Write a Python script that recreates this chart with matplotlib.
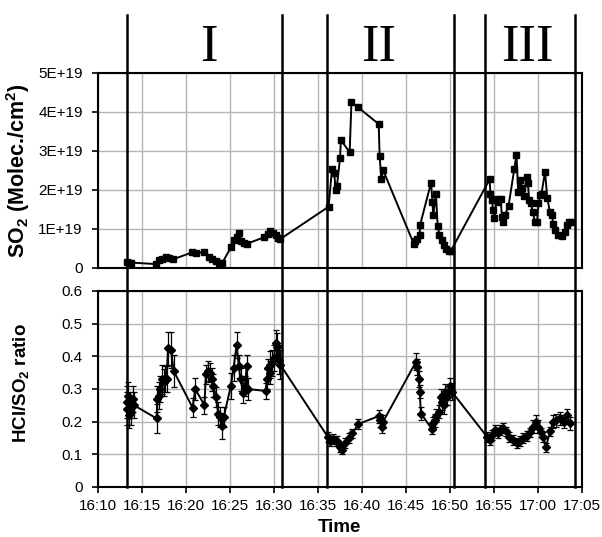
import numpy as np
import matplotlib
matplotlib.use("Agg")
import matplotlib.pyplot as plt
from matplotlib.transforms import blended_transform_factory
from matplotlib.lines import Line2D

plt.rcParams['font.family'] = ['Liberation Sans', 'DejaVu Sans']
plt.rcParams['mathtext.fontset'] = 'custom'
plt.rcParams['mathtext.rm'] = 'Liberation Sans'
plt.rcParams['mathtext.bf'] = 'Liberation Sans:bold'

# ---------------- data (time in minutes after 16:00) ----------------
so2_time = [13.3, 13.5, 13.7, 16.6, 16.95, 17.3, 17.7, 18.1, 18.5, 20.7, 21.1, 22.05, 22.6,
            23.0, 23.4, 23.8, 24.1, 25.1, 25.5, 25.75, 26.0, 26.3, 26.6, 26.9, 28.9, 29.3,
            29.6, 29.9, 30.2, 30.5, 30.7, 36.2, 36.6, 36.85, 37.0, 37.15, 37.5, 37.6, 38.6,
            38.8, 39.55, 41.9, 42.0, 42.2, 42.4, 45.9, 46.05, 46.2, 46.55, 46.6, 47.85, 48.0,
            48.1, 48.4, 48.6, 48.8, 49.05, 49.3, 49.6, 49.85, 50.1, 54.5, 54.6, 54.75, 54.9,
            55.05, 55.3, 55.5, 55.75, 55.9, 56.05, 56.25, 56.65, 57.3, 57.55, 57.75, 58.0,
            58.2, 58.4, 58.7, 58.85, 59.0, 59.2, 59.4, 59.65, 59.9, 60.05, 60.25, 60.4, 60.8,
            61.05, 61.35, 61.55, 61.75, 61.95, 62.3, 62.7, 63.05, 63.25, 63.5, 63.7]
so2_e19 = [0.15, 0.12, 0.14, 0.10, 0.20, 0.24, 0.29, 0.25, 0.22, 0.40, 0.39, 0.40, 0.29,
           0.22, 0.18, 0.14, 0.12, 0.53, 0.72, 0.80, 0.91, 0.70, 0.63, 0.62, 0.79, 0.88,
           0.95, 0.90, 0.85, 0.78, 0.74, 1.57, 2.55, 2.43, 2.00, 2.10, 2.81, 3.28, 2.97,
           4.26, 4.12, 3.69, 2.88, 2.27, 2.51, 0.61, 0.68, 0.74, 0.85, 1.10, 2.19, 1.70,
           1.35, 1.91, 1.08, 0.85, 0.72, 0.59, 0.48, 0.44, 0.44, 2.27, 1.91, 1.74, 1.49,
           1.27, 1.78, 1.70, 1.78, 1.32, 1.19, 1.36, 1.59, 2.53, 2.90, 1.96, 2.26,
           2.05, 1.84, 2.34, 2.17, 1.74, 1.66, 1.44, 1.19, 1.19, 1.66, 1.88, 1.91, 2.47,
           1.80, 1.44, 1.36, 1.14, 0.97, 0.85, 0.83, 0.93, 1.10, 1.19, 1.19]

ratio_time = [13.25, 13.35, 13.45, 13.55, 13.65, 13.8, 13.95, 14.1,
              16.65, 16.75, 16.9, 17.1, 17.25, 17.45, 17.6, 17.8, 17.95, 18.3, 18.6,
              20.75, 21.05, 22.1, 22.25, 22.5, 22.7, 22.9, 23.1, 23.4, 23.65, 23.9, 24.1, 24.3,
              25.1, 25.4, 25.75, 26.0, 26.2, 26.5, 26.7, 26.9, 27.0,
              29.05, 29.2, 29.35, 29.5, 29.6, 29.8, 30.0, 30.2, 30.35, 30.55, 30.7,
              36.1, 36.4, 36.7, 37.0, 37.2, 37.55, 37.75, 38.1, 38.5, 38.9, 39.6, 41.9, 42.1,
              42.25, 42.4,
              46.15, 46.3, 46.45, 46.55, 46.7, 47.95, 48.1, 48.3, 48.45, 48.7, 48.95, 49.1,
              49.3, 49.45, 49.7, 49.95, 50.2,
              54.2, 54.5, 54.8, 55.1, 55.4, 55.7, 56.05, 56.4, 56.75, 57.2, 57.6, 57.9, 58.3,
              58.7, 59.1, 59.45, 59.8, 60.0, 60.3, 60.6, 60.9, 61.35, 61.75, 62.1, 62.5, 62.9,
              63.25, 63.6]
ratio = [0.26, 0.24, 0.28, 0.22, 0.25, 0.23, 0.27, 0.25,
         0.21, 0.27, 0.28, 0.30, 0.33, 0.32, 0.33, 0.33, 0.425, 0.42, 0.355,
         0.243, 0.30, 0.25, 0.345, 0.355, 0.35, 0.33, 0.31, 0.276, 0.225, 0.215, 0.187, 0.215,
         0.31, 0.363, 0.435, 0.37, 0.33, 0.287, 0.31, 0.37, 0.30,
         0.294, 0.33, 0.363, 0.35, 0.375, 0.38, 0.394, 0.44, 0.43, 0.39, 0.375,
         0.154, 0.14, 0.146, 0.14, 0.14, 0.123, 0.113, 0.135, 0.149, 0.164, 0.193, 0.217, 0.205,
         0.185, 0.20,
         0.384, 0.367, 0.33, 0.292, 0.225, 0.177, 0.195, 0.205, 0.218, 0.23, 0.276, 0.26,
         0.25, 0.29, 0.275, 0.309, 0.292,
         0.154, 0.145, 0.16, 0.174, 0.165, 0.175, 0.18, 0.17, 0.154, 0.145, 0.134, 0.14, 0.15,
         0.155, 0.167, 0.185, 0.20, 0.185, 0.167, 0.154, 0.121, 0.17, 0.20, 0.205, 0.21, 0.20,
         0.22, 0.195]
ratio_err = [0.05, 0.05, 0.04, 0.04, 0.04, 0.04, 0.04, 0.04,
             0.045, 0.04, 0.04, 0.04, 0.045, 0.04, 0.04, 0.04, 0.05, 0.055, 0.05,
             0.03, 0.035, 0.025, 0.03, 0.03, 0.03, 0.035, 0.035, 0.03, 0.035, 0.03, 0.04, 0.03,
             0.04, 0.04, 0.04, 0.035, 0.035, 0.03, 0.03, 0.035, 0.035,
             0.025, 0.03, 0.03, 0.035, 0.04, 0.04, 0.04, 0.04, 0.04, 0.045, 0.045,
             0.015, 0.015, 0.015, 0.015, 0.015, 0.015, 0.012, 0.015, 0.015, 0.015, 0.015, 0.02, 0.02,
             0.02, 0.02,
             0.025, 0.025, 0.025, 0.02, 0.02, 0.015, 0.02, 0.02, 0.02, 0.02, 0.025, 0.025,
             0.025, 0.025, 0.025, 0.025, 0.025,
             0.015, 0.015, 0.015, 0.015, 0.015, 0.015, 0.015, 0.015, 0.015, 0.015, 0.015, 0.015, 0.015,
             0.015, 0.015, 0.02, 0.02, 0.02, 0.015, 0.015, 0.015, 0.015, 0.02, 0.02, 0.02, 0.02,
             0.02, 0.02]

x_ticks = [10, 15, 20, 25, 30, 35, 40, 45, 50, 55, 60, 65]
x_ticklabels = ["16:10", "16:15", "16:20", "16:25", "16:30", "16:35", "16:40",
                "16:45", "16:50", "16:55", "17:00", "17:05"]
so2_ticks_e19 = [0, 1, 2, 3, 4, 5]
so2_ticklabels = ["0", "1E+19", "2E+19", "3E+19", "4E+19", "5E+19"]
ratio_ticks = [0, 0.1, 0.2, 0.3, 0.4, 0.5, 0.6]
ratio_ticklabels = ["0", "0.1", "0.2", "0.3", "0.4", "0.5", "0.6"]

phase_bounds = [13.3, 30.9, 36.0, 50.5, 54.0, 64.2]
phase_labels = ["I", "II", "III"]
phase_label_x = [22.6, 41.9, 58.75]

# ---------------- figure ----------------
W, H = 602, 537
fig = plt.figure(figsize=(W / 100, H / 100), dpi=100)
L, R = 98, 582
ax1 = fig.add_axes([L / W, 1 - 268 / H, (R - L) / W, (268 - 73) / H])
ax2 = fig.add_axes([L / W, 1 - 487 / H, (R - L) / W, (487 - 291) / H])

so2 = np.array(so2_e19) * 1e19
grid_kw = dict(color='#b4b4b4', lw=1.0)

for ax in (ax1, ax2):
    ax.set_xlim(10, 65)
    ax.set_xticks(x_ticks)
    ax.grid(True, **grid_kw)
    ax.set_axisbelow(True)
    for s in ax.spines.values():
        s.set_linewidth(1.5)
        s.set_color('black')
    ax.tick_params(axis='y', direction='out', length=4, width=1.2, pad=7, labelsize=11)
    ax.tick_params(axis='x', direction='out', length=4, width=1.2, pad=5, labelsize=11)

ax1.plot(so2_time, so2, '-', color='black', lw=1.4, marker='s', ms=4.4, mfc='black', mec='black')
ax1.set_ylim(0, 5e19)
ax1.set_yticks(np.array(so2_ticks_e19) * 1e19)
ax1.set_yticklabels(so2_ticklabels)
ax1.tick_params(axis='x', length=0, labelbottom=False)
ax1.set_ylabel(r"SO$_\mathbf{2}$ (Molec./cm$^\mathbf{2}$)", fontsize=15.5, fontweight='bold')
ax1.yaxis.set_label_coords((32 - L) / (R - L), 0.5)

ax2.errorbar(ratio_time, ratio, yerr=ratio_err, fmt='-', color='black', lw=1.4,
             marker='D', ms=3.8, mfc='black', mec='black',
             ecolor='black', elinewidth=0.9, capsize=2.2, capthick=0.9)
ax2.set_ylim(0, 0.6)
ax2.set_yticks(ratio_ticks)
ax2.set_yticklabels(ratio_ticklabels)
ax2.set_xticklabels(x_ticklabels)
ax2.set_ylabel(r"HCl/SO$_\mathbf{2}$ ratio", fontsize=13.5, fontweight='bold')
ax2.yaxis.set_label_coords((32 - L) / (R - L), 0.53)

fig.text(339 / W, 1 - 527 / H, "Time", fontsize=13.5, fontweight='bold', ha='center', va='center')

# phase boundary lines across both panels
tr = blended_transform_factory(ax2.transData, fig.transFigure)
for xb in phase_bounds:
    fig.add_artist(Line2D([xb, xb], [1 - 15 / H, 1 - 487 / H], transform=tr,
                          color='black', lw=1.8, clip_on=False, zorder=5))

tr2 = blended_transform_factory(ax1.transData, fig.transFigure)
for lab, xl in zip(phase_labels, phase_label_x):
    fig.text(xl, 1 - 48 / H, lab, transform=tr2, ha='center', va='center',
             fontsize=38, family=['Liberation Serif', 'DejaVu Serif'])

fig.savefig("out.png", dpi=100)
